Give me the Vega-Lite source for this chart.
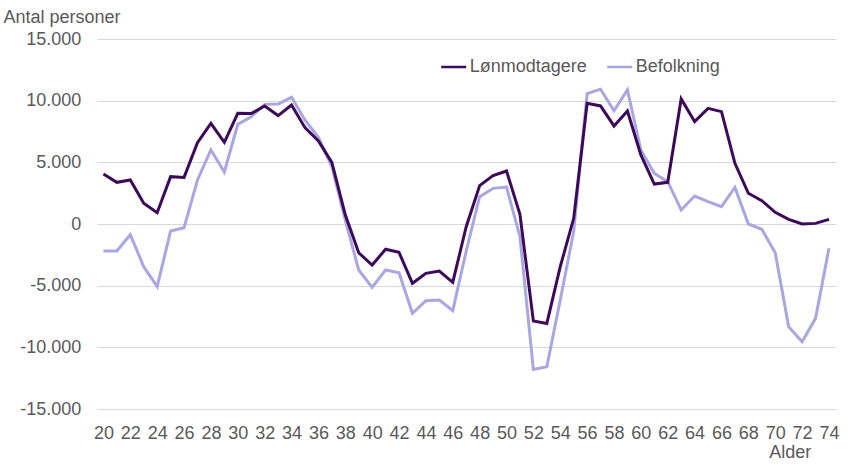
{
  "$schema": "https://vega.github.io/schema/vega-lite/v6.json",
  "width": 739,
  "height": 370,
  "autosize": {"type": "none"},
  "padding": {"left": 96.7, "top": 39, "right": 12.3, "bottom": 57},
  "background": "#ffffff",
  "config": {
    "view": {"stroke": null},
    "font": "Liberation Sans",
    "locale": {"number": {"decimal": ",", "thousands": ".", "grouping": [3], "currency": ["kr. ", ""], "minus": "-"}}
  },
  "data": {
    "values": [
      {"Alder": 20, "Serie": "Befolkning", "Antal": -2190},
      {"Alder": 21, "Serie": "Befolkning", "Antal": -2190},
      {"Alder": 22, "Serie": "Befolkning", "Antal": -870},
      {"Alder": 23, "Serie": "Befolkning", "Antal": -3460},
      {"Alder": 24, "Serie": "Befolkning", "Antal": -5080},
      {"Alder": 25, "Serie": "Befolkning", "Antal": -570},
      {"Alder": 26, "Serie": "Befolkning", "Antal": -300},
      {"Alder": 27, "Serie": "Befolkning", "Antal": 3570},
      {"Alder": 28, "Serie": "Befolkning", "Antal": 6000},
      {"Alder": 29, "Serie": "Befolkning", "Antal": 4220},
      {"Alder": 30, "Serie": "Befolkning", "Antal": 8080},
      {"Alder": 31, "Serie": "Befolkning", "Antal": 8700},
      {"Alder": 32, "Serie": "Befolkning", "Antal": 9700},
      {"Alder": 33, "Serie": "Befolkning", "Antal": 9730},
      {"Alder": 34, "Serie": "Befolkning", "Antal": 10270},
      {"Alder": 35, "Serie": "Befolkning", "Antal": 8430},
      {"Alder": 36, "Serie": "Befolkning", "Antal": 7030},
      {"Alder": 37, "Serie": "Befolkning", "Antal": 4650},
      {"Alder": 38, "Serie": "Befolkning", "Antal": 320},
      {"Alder": 39, "Serie": "Befolkning", "Antal": -3730},
      {"Alder": 40, "Serie": "Befolkning", "Antal": -5140},
      {"Alder": 41, "Serie": "Befolkning", "Antal": -3730},
      {"Alder": 42, "Serie": "Befolkning", "Antal": -3950},
      {"Alder": 43, "Serie": "Befolkning", "Antal": -7240},
      {"Alder": 44, "Serie": "Befolkning", "Antal": -6220},
      {"Alder": 45, "Serie": "Befolkning", "Antal": -6160},
      {"Alder": 46, "Serie": "Befolkning", "Antal": -7030},
      {"Alder": 47, "Serie": "Befolkning", "Antal": -2200},
      {"Alder": 48, "Serie": "Befolkning", "Antal": 2220},
      {"Alder": 49, "Serie": "Befolkning", "Antal": 2890},
      {"Alder": 50, "Serie": "Befolkning", "Antal": 3000},
      {"Alder": 51, "Serie": "Befolkning", "Antal": -1030},
      {"Alder": 52, "Serie": "Befolkning", "Antal": -11790},
      {"Alder": 53, "Serie": "Befolkning", "Antal": -11570},
      {"Alder": 54, "Serie": "Befolkning", "Antal": -6160},
      {"Alder": 55, "Serie": "Befolkning", "Antal": -620},
      {"Alder": 56, "Serie": "Befolkning", "Antal": 10570},
      {"Alder": 57, "Serie": "Befolkning", "Antal": 10930},
      {"Alder": 58, "Serie": "Befolkning", "Antal": 9180},
      {"Alder": 59, "Serie": "Befolkning", "Antal": 10870},
      {"Alder": 60, "Serie": "Befolkning", "Antal": 6000},
      {"Alder": 61, "Serie": "Befolkning", "Antal": 4110},
      {"Alder": 62, "Serie": "Befolkning", "Antal": 3430},
      {"Alder": 63, "Serie": "Befolkning", "Antal": 1140},
      {"Alder": 64, "Serie": "Befolkning", "Antal": 2270},
      {"Alder": 65, "Serie": "Befolkning", "Antal": 1810},
      {"Alder": 66, "Serie": "Befolkning", "Antal": 1410},
      {"Alder": 67, "Serie": "Befolkning", "Antal": 2970},
      {"Alder": 68, "Serie": "Befolkning", "Antal": 0},
      {"Alder": 69, "Serie": "Befolkning", "Antal": -430},
      {"Alder": 70, "Serie": "Befolkning", "Antal": -2330},
      {"Alder": 71, "Serie": "Befolkning", "Antal": -8330},
      {"Alder": 72, "Serie": "Befolkning", "Antal": -9540},
      {"Alder": 73, "Serie": "Befolkning", "Antal": -7650},
      {"Alder": 74, "Serie": "Befolkning", "Antal": -1970},
      {"Alder": 20, "Serie": "Lønmodtagere", "Antal": 4050},
      {"Alder": 21, "Serie": "Lønmodtagere", "Antal": 3380},
      {"Alder": 22, "Serie": "Lønmodtagere", "Antal": 3570},
      {"Alder": 23, "Serie": "Lønmodtagere", "Antal": 1680},
      {"Alder": 24, "Serie": "Lønmodtagere", "Antal": 920},
      {"Alder": 25, "Serie": "Lønmodtagere", "Antal": 3840},
      {"Alder": 26, "Serie": "Lønmodtagere", "Antal": 3780},
      {"Alder": 27, "Serie": "Lønmodtagere", "Antal": 6600},
      {"Alder": 28, "Serie": "Lønmodtagere", "Antal": 8160},
      {"Alder": 29, "Serie": "Lønmodtagere", "Antal": 6620},
      {"Alder": 30, "Serie": "Lønmodtagere", "Antal": 8970},
      {"Alder": 31, "Serie": "Lønmodtagere", "Antal": 8950},
      {"Alder": 32, "Serie": "Lønmodtagere", "Antal": 9570},
      {"Alder": 33, "Serie": "Lønmodtagere", "Antal": 8790},
      {"Alder": 34, "Serie": "Lønmodtagere", "Antal": 9650},
      {"Alder": 35, "Serie": "Lønmodtagere", "Antal": 7810},
      {"Alder": 36, "Serie": "Lønmodtagere", "Antal": 6730},
      {"Alder": 37, "Serie": "Lønmodtagere", "Antal": 5000},
      {"Alder": 38, "Serie": "Lønmodtagere", "Antal": 750},
      {"Alder": 39, "Serie": "Lønmodtagere", "Antal": -2330},
      {"Alder": 40, "Serie": "Lønmodtagere", "Antal": -3330},
      {"Alder": 41, "Serie": "Lønmodtagere", "Antal": -2050},
      {"Alder": 42, "Serie": "Lønmodtagere", "Antal": -2300},
      {"Alder": 43, "Serie": "Lønmodtagere", "Antal": -4810},
      {"Alder": 44, "Serie": "Lønmodtagere", "Antal": -4000},
      {"Alder": 45, "Serie": "Lønmodtagere", "Antal": -3810},
      {"Alder": 46, "Serie": "Lønmodtagere", "Antal": -4730},
      {"Alder": 47, "Serie": "Lønmodtagere", "Antal": -220},
      {"Alder": 48, "Serie": "Lønmodtagere", "Antal": 3110},
      {"Alder": 49, "Serie": "Lønmodtagere", "Antal": 3920},
      {"Alder": 50, "Serie": "Lønmodtagere", "Antal": 4300},
      {"Alder": 51, "Serie": "Lønmodtagere", "Antal": 780},
      {"Alder": 52, "Serie": "Lønmodtagere", "Antal": -7870},
      {"Alder": 53, "Serie": "Lønmodtagere", "Antal": -8060},
      {"Alder": 54, "Serie": "Lønmodtagere", "Antal": -3460},
      {"Alder": 55, "Serie": "Lønmodtagere", "Antal": 460},
      {"Alder": 56, "Serie": "Lønmodtagere", "Antal": 9790},
      {"Alder": 57, "Serie": "Lønmodtagere", "Antal": 9570},
      {"Alder": 58, "Serie": "Lønmodtagere", "Antal": 7950},
      {"Alder": 59, "Serie": "Lønmodtagere", "Antal": 9160},
      {"Alder": 60, "Serie": "Lønmodtagere", "Antal": 5600},
      {"Alder": 61, "Serie": "Lønmodtagere", "Antal": 3240},
      {"Alder": 62, "Serie": "Lønmodtagere", "Antal": 3380},
      {"Alder": 63, "Serie": "Lønmodtagere", "Antal": 10140},
      {"Alder": 64, "Serie": "Lønmodtagere", "Antal": 8300},
      {"Alder": 65, "Serie": "Lønmodtagere", "Antal": 9380},
      {"Alder": 66, "Serie": "Lønmodtagere", "Antal": 9110},
      {"Alder": 67, "Serie": "Lønmodtagere", "Antal": 4920},
      {"Alder": 68, "Serie": "Lønmodtagere", "Antal": 2490},
      {"Alder": 69, "Serie": "Lønmodtagere", "Antal": 1890},
      {"Alder": 70, "Serie": "Lønmodtagere", "Antal": 950},
      {"Alder": 71, "Serie": "Lønmodtagere", "Antal": 380},
      {"Alder": 72, "Serie": "Lønmodtagere", "Antal": 0},
      {"Alder": 73, "Serie": "Lønmodtagere", "Antal": 50},
      {"Alder": 74, "Serie": "Lønmodtagere", "Antal": 380}
    ]
  },
  "mark": {"type": "line", "strokeWidth": 3, "strokeJoin": "miter", "strokeCap": "butt"},
  "encoding": {
    "x": {
      "field": "Alder",
      "type": "quantitative",
      "scale": {"domain": [19.5, 74.5], "nice": false, "zero": false},
      "axis": {
        "values": [20, 22, 24, 26, 28, 30, 32, 34, 36, 38, 40, 42, 44, 46, 48, 50, 52, 54, 56, 58, 60, 62, 64, 66, 68, 70, 72, 74],
        "grid": false,
        "ticks": false,
        "domain": false,
        "labelFontSize": 18,
        "labelColor": "#595959",
        "labelBaseline": "alphabetic",
        "labelPadding": 29,
        "labelFlush": false,
        "labelOverlap": false,
        "title": "Alder",
        "titleFontSize": 18,
        "titleFontWeight": "normal",
        "titleColor": "#595959",
        "titleAnchor": null,
        "titleAlign": "center",
        "titleBaseline": "alphabetic",
        "titleX": 693,
        "titleY": 48
      }
    },
    "y": {
      "field": "Antal",
      "type": "quantitative",
      "scale": {"domain": [-15000, 15000], "nice": false},
      "axis": {
        "values": [-15000, -10000, -5000, 0, 5000, 10000, 15000],
        "format": ",.0f",
        "grid": true,
        "gridColor": "#d9d9d9",
        "gridWidth": 1,
        "ticks": false,
        "domain": false,
        "labelFontSize": 18,
        "labelColor": "#595959",
        "labelPadding": 16,
        "title": "Antal personer",
        "titleFontSize": 18,
        "titleFontWeight": "normal",
        "titleColor": "#595959",
        "titleAngle": 0,
        "titleAnchor": null,
        "titleAlign": "left",
        "titleBaseline": "alphabetic",
        "titleX": -93.7,
        "titleY": -16.3
      }
    },
    "color": {
      "field": "Serie",
      "type": "nominal",
      "scale": {"domain": ["Lønmodtagere", "Befolkning"], "range": ["#3d0a5b", "#a9a6e2"]},
      "legend": {
        "title": null,
        "orient": "none",
        "legendX": 343,
        "legendY": 14,
        "direction": "horizontal",
        "symbolType": "stroke",
        "symbolSize": 625,
        "symbolStrokeWidth": 2.5,
        "labelFontSize": 18,
        "labelColor": "#595959",
        "labelOffset": 2,
        "columnPadding": 14,
        "padding": 0,
        "labelLimit": 300
      }
    }
  }
}
